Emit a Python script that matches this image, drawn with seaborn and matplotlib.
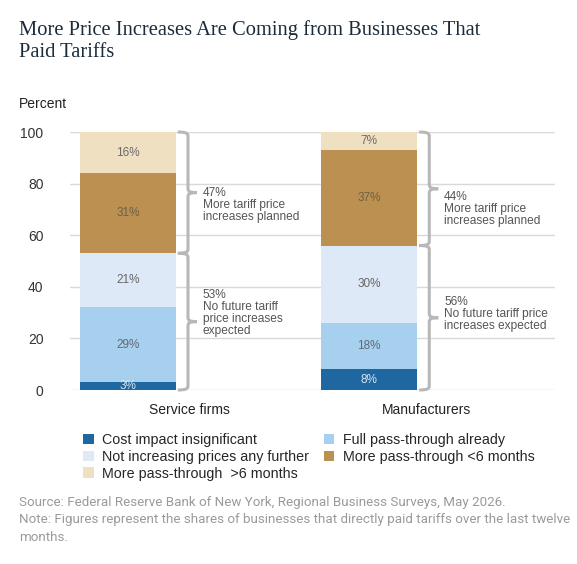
import matplotlib
matplotlib.use('Agg')
import matplotlib.pyplot as plt
from matplotlib.path import Path
from matplotlib.patches import PathPatch, Patch
import numpy as np
import pandas as pd
import seaborn as sns

sns.set_style("white")
plt.rcParams['font.family'] = ['Liberation Sans', 'DejaVu Sans']

# data
categories = ['Service firms', 'Manufacturers']
segments = ['Cost impact insignificant', 'Full pass-through already',
            'Not increasing prices any further', 'More pass-through <6 months',
            'More pass-through  >6 months']
service_vals = [3, 29, 21, 31, 16]
manuf_vals = [8, 18, 30, 37, 7]
group_labels = [['53%\nNo future tariff\nprice increases\nexpected', '47%\nMore tariff price\nincreases planned'],
                ['56%\nNo future tariff price\nincreases expected', '44%\nMore tariff price\nincreases planned']]
yticks = [0, 20, 40, 60, 80, 100]

colors = ['#1f67a0', '#a7d0ee', '#dde9f6', '#bb9050', '#f0e0c2']
label_colors = ['#d6e6f3', '#5f6a75', '#666666', '#6f6045', '#6b6b6b']

fig = plt.figure(figsize=(5.77, 5.64), dpi=100)
ax = fig.add_axes([70 / 577, 1 - 390 / 564, 485 / 577, 258 / 564])

# stacked bars via cumulative overlay, top segment first
vals = np.array([service_vals, manuf_vals])
cum = vals.cumsum(axis=1)
for i in range(len(segments) - 1, -1, -1):
    df = pd.DataFrame({'cat': categories, 'v': cum[:, i]})
    sns.barplot(data=df, x='cat', y='v', color=colors[i], width=0.4,
                saturation=1, ax=ax, zorder=2, edgecolor='none', linewidth=0)

# segment labels
for j in range(len(categories)):
    bottom = 0
    for i in range(len(segments)):
        ax.text(j, bottom + vals[j, i] / 2, f'{vals[j, i]}%', ha='center', va='center',
                fontsize=8.5, color=label_colors[i], zorder=3)
        bottom += vals[j, i]


def brace(ax, x, y0, y1, we, wt, d=1.6, color='#b8b8b8'):
    ym = (y0 + y1) / 2
    verts = [(x - we, y0),
             (x - we * 0.2, y0), (x, y0 + d * 0.3), (x, y0 + d),
             (x, ym - d),
             (x, ym - d * 0.3), (x + wt * 0.2, ym), (x + wt, ym),
             (x + wt * 0.2, ym), (x, ym + d * 0.3), (x, ym + d),
             (x, y1 - d),
             (x, y1 - d * 0.3), (x - we * 0.2, y1), (x - we, y1)]
    codes = [Path.MOVETO, Path.CURVE4, Path.CURVE4, Path.CURVE4, Path.LINETO,
             Path.CURVE4, Path.CURVE4, Path.CURVE4,
             Path.CURVE4, Path.CURVE4, Path.CURVE4, Path.LINETO,
             Path.CURVE4, Path.CURVE4, Path.CURVE4]
    ax.add_patch(PathPatch(Path(verts, codes), fill=False, edgecolor=color,
                           lw=2.2, zorder=3, clip_on=False))


text_tops = [[39.2, 78.6], [36.4, 77.0]]
for j in range(len(categories)):
    split = vals[j, :3].sum()
    brace(ax, j + 0.249, 0, split, 0.042, 0.037)
    brace(ax, j + 0.249, split, 100, 0.042, 0.037)
    for k in range(2):
        ax.text(j + 0.311, text_tops[j][k], group_labels[j][k], ha='left', va='top',
                fontsize=8.6, color='#555555', linespacing=1.0, zorder=3)

ax.set_xlim(-0.24, 1.77)
ax.set_ylim(0, 100)
ax.set_yticks(yticks)
ax.set_xticks([0.255, 1.237], categories)
ax.grid(axis='y', color='#d9d9d9', lw=1, zorder=0)
ax.set_axisbelow(True)
sns.despine(ax=ax, left=True, bottom=True)
ax.tick_params(axis='y', length=0, pad=19, labelsize=10, labelcolor='#333333')
ax.tick_params(axis='x', length=0, pad=9, labelsize=10, labelcolor='#222222')
ax.set_xlabel('')
ax.set_ylabel('')

# title and axis unit
fig.text(19 / 577, 1 - 20 / 564, 'More Price Increases Are Coming from Businesses That\nPaid Tariffs',
         family=['Liberation Serif', 'DejaVu Serif'], fontsize=14.8, color='#1c2b3a',
         ha='left', va='top', linespacing=1.2)
fig.text(19 / 577, 1 - 104 / 564, 'Percent', fontsize=10, color='#222222', ha='left', va='center')

# legend
order = [0, 2, 4, 1, 3]
handles = [Patch(facecolor=colors[i], edgecolor='none') for i in order]
fig.legend(handles, [segments[i] for i in order], ncol=2, frameon=False,
           loc='upper left', bbox_to_anchor=(83 / 577, 1 - 433 / 564), fontsize=10.3,
           handlelength=0.75, handleheight=0.75, handletextpad=0.6,
           columnspacing=1.0, labelspacing=0.2, borderaxespad=0, borderpad=0)

# footer
foot = ('Source: Federal Reserve Bank of New York, Regional Business Surveys, May 2026.\n'
        'Note: Figures represent the shares of businesses that directly paid tariffs over the last twelve\n'
        'months.')
fig.text(19 / 577, 1 - 496 / 564, foot, family=['Roboto', 'DejaVu Sans'], fontsize=9.6,
         color='#9a9a9a', ha='left', va='top', linespacing=1.45)

fig.savefig('out.png', dpi=100)
